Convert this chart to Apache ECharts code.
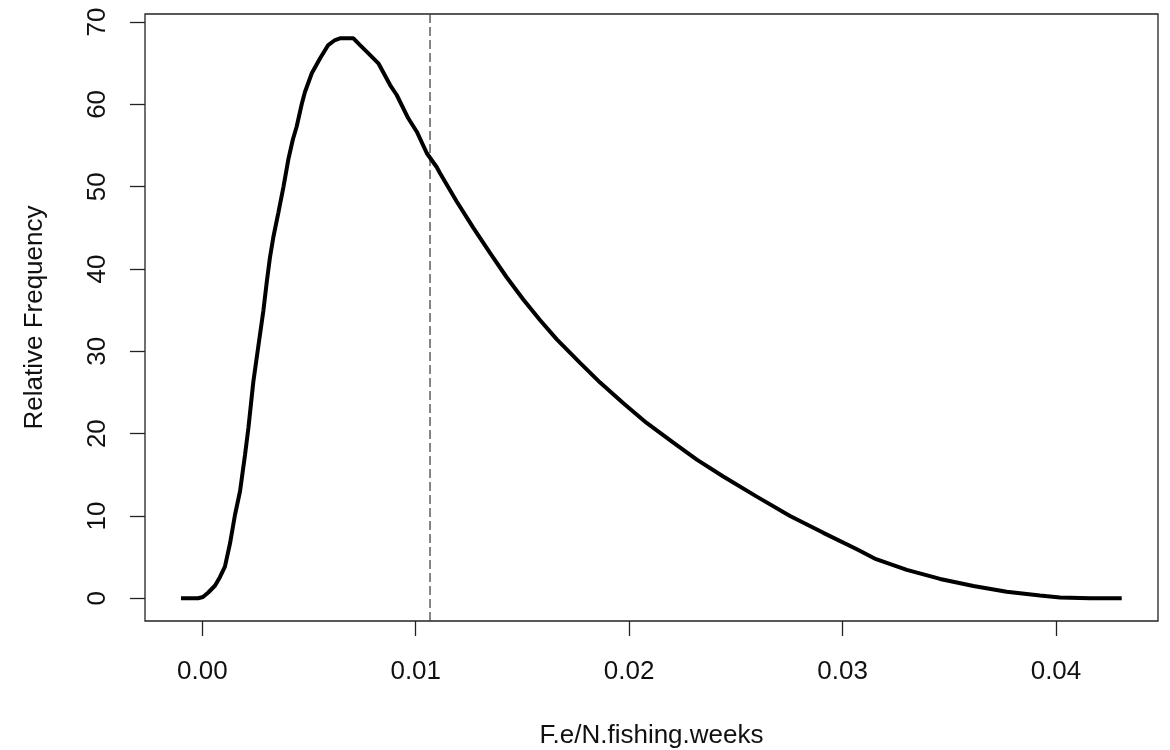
<!DOCTYPE html>
<html>
<head>
<meta charset="utf-8">
<script src="https://cdn.jsdelivr.net/npm/echarts@6/dist/echarts.min.js"></script>
<style>
html,body{margin:0;padding:0;background:#fff;}
#chart{width:1170px;height:750px;}
</style>
</head>
<body>
<div id="chart"></div>
<script>
// Density curve
const xValues = [-0.0010, -0.0002, 0.00003, 0.00028, 0.00060, 0.00083, 0.00106, 0.00130, 0.00153, 0.00177,
  0.00200, 0.00216, 0.00239, 0.00262, 0.00286, 0.00302, 0.00317, 0.00333, 0.00356, 0.00380,
  0.00403, 0.00424, 0.00442, 0.00466, 0.00481, 0.00513, 0.00552, 0.00590, 0.00622, 0.00645,
  0.00708, 0.00739, 0.00770, 0.00825, 0.00880, 0.00911, 0.00965, 0.01005, 0.01052, 0.01098,
  0.01114, 0.01192, 0.01270, 0.01348, 0.01426, 0.01504, 0.01582, 0.01661, 0.01770, 0.01864,
  0.01973, 0.02082, 0.02207, 0.02317, 0.02441, 0.02598, 0.02754, 0.02910, 0.03067, 0.03157,
  0.03301, 0.03457, 0.03613, 0.03769, 0.03925, 0.04019, 0.04160, 0.04308];
const yValues = [0.0, 0.0, 0.16, 0.70, 1.55, 2.59, 3.84, 6.68, 10.12, 13.03,
  17.41, 20.69, 26.28, 30.53, 34.90, 38.42, 41.40, 43.89, 46.80, 49.96,
  53.30, 55.70, 57.29, 60.05, 61.50, 63.78, 65.60, 67.21, 67.82, 68.03,
  68.03, 67.20, 66.40, 64.99, 62.35, 61.14, 58.31, 56.68, 54.06, 52.39,
  51.63, 48.20, 45.00, 41.95, 39.00, 36.30, 33.81, 31.45, 28.60, 26.20,
  23.69, 21.30, 18.90, 16.85, 14.80, 12.35, 10.00, 7.95, 5.95, 4.75,
  3.45, 2.35, 1.50, 0.80, 0.34, 0.10, 0.0, 0.0];
const xTicks = [0.00, 0.01, 0.02, 0.03, 0.04];
const yTicks = [0, 10, 20, 30, 40, 50, 60, 70];
const xRange = [-0.002685, 0.04478];
const yRange = [-2.76, 70.98];
const refLineX = 0.01067;
const xLabel = 'F.e/N.fishing.weeks';
const yLabel = 'Relative Frequency';

const curve = xValues.map((x, i) => [x, yValues[i]]);
const refLine = [[refLineX, yRange[0]], [refLineX, yRange[1]]];
const FONT = '"Liberation Sans", Arial, sans-serif';
const FS = 26;

const chart = echarts.init(document.getElementById('chart'), null, {renderer: 'canvas'});
chart.setOption({
  animation: false,
  backgroundColor: '#ffffff',
  grid: {
    left: 145, right: 12, top: 14, bottom: 129,
    containLabel: false, outerBoundsMode: 'none',
    show: true, borderColor: '#222', borderWidth: 1.3, backgroundColor: 'transparent'
  },
  xAxis: {
    type: 'value',
    min: xRange[0], max: xRange[1],
    splitLine: {show: false},
    axisLine: {show: false, onZero: false},
    axisTick: {show: true, length: 15, inside: false, customValues: xTicks, lineStyle: {color: '#222', width: 1.3}},
    axisLabel: {
      customValues: xTicks, margin: 38,
      formatter: v => v.toFixed(2),
      color: '#111', fontSize: FS, fontFamily: FONT
    },
    name: xLabel, nameLocation: 'middle', nameGap: 102,
    nameTextStyle: {color: '#111', fontSize: FS, fontFamily: FONT}
  },
  yAxis: {
    type: 'value',
    min: yRange[0], max: yRange[1],
    splitLine: {show: false},
    axisLine: {show: false, onZero: false},
    axisTick: {show: true, length: 15, inside: false, customValues: yTicks, lineStyle: {color: '#222', width: 1.3}},
    axisLabel: {
      customValues: yTicks, margin: 34, rotate: 90,
      formatter: v => String(v),
      color: '#111', fontSize: FS, fontFamily: FONT
    },
    name: yLabel, nameLocation: 'middle', nameGap: 97, nameRotate: 90,
    nameTextStyle: {color: '#111', fontSize: FS, fontFamily: FONT}
  },
  series: [{
    type: 'line',
    data: refLine,
    symbol: 'none',
    silent: true,
    lineStyle: {color: '#444', type: [9, 4], width: 1.3},
    z: 1
  }, {
    type: 'line',
    data: curve,
    showSymbol: false,
    symbol: 'none',
    smooth: false,
    lineStyle: {color: '#000', width: 4},
    z: 2
  }]
});
</script>
</body>
</html>
